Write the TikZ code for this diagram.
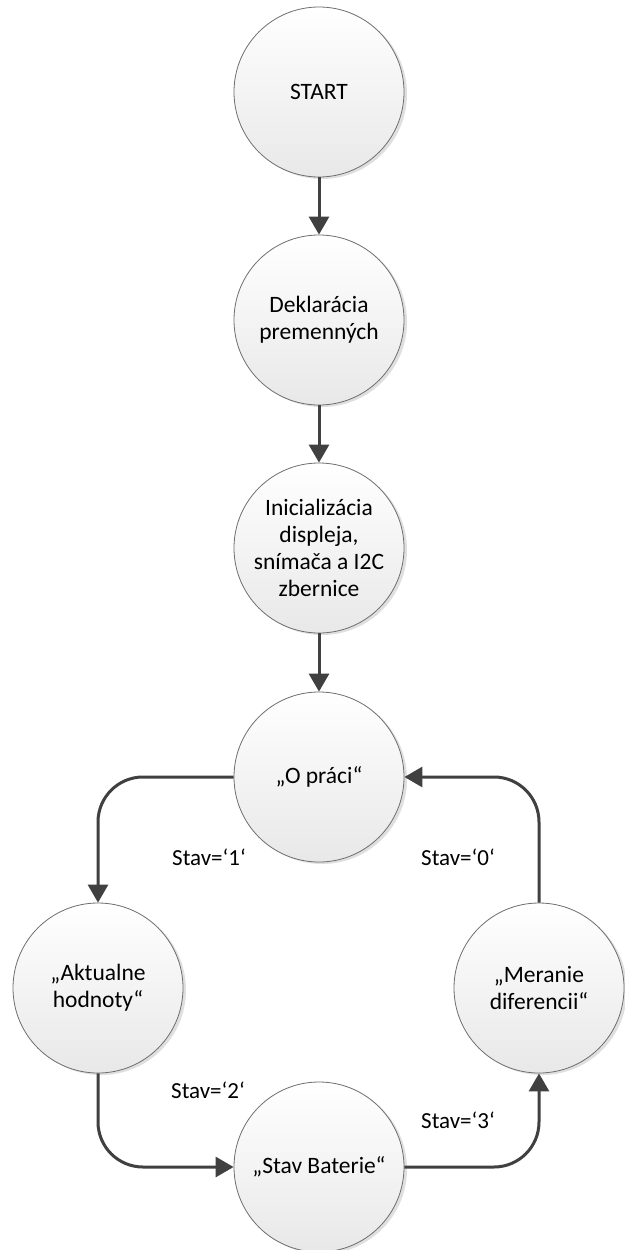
\documentclass[tikz,border=0pt]{standalone}
\usepackage{fontspec}
\setmainfont{Carlito}
\usetikzlibrary{arrows.meta,shadows}
\definecolor{linegray}{HTML}{404040}
\definecolor{rimgray}{HTML}{6E6E6E}

\begin{document}
\begin{tikzpicture}[x=1pt, y=-1pt,
    state/.style={circle, draw=rimgray, line width=0.8pt, minimum size=170pt, inner sep=0pt, align=center,
        top color=white, bottom color=black!9,
        drop shadow={shadow xshift=3pt, shadow yshift=-2pt, opacity=0.25},
        font=\fontsize{23.5}{27}\selectfont},
    flow/.style={draw=linegray, line width=3pt, -{Triangle[length=18pt,width=20pt]}},
    cond/.style={font=\fontsize{23}{27}\selectfont, inner sep=0pt}]
                \fill[white] (0,0) rectangle (624,1250);
                \useasboundingbox (0,0) rectangle (624,1250);

                \node[state] (start) at (319,92) {START};
                \node[state] (dekl) at (319,320) {Deklarácia\\premenných};
                \node[state] (init) at (319,548) {Inicializácia\\displeja,\\snímača a I2C\\zbernice};
                \node[state] (opraci) at (319,777) {„O práci“};
                \node[state] (aktual) at (98,988) {„Aktualne\\hodnoty“};
                \node[state] (meran) at (539,988) {„Meranie\\diferencii“};
                \node[state] (bat) at (319,1167) {„Stav Baterie“};

                \draw[flow] (start) -- (dekl);
                \draw[flow] (dekl) -- (init);
                \draw[flow] (init) -- (opraci);
                \draw[flow, rounded corners=45pt] (opraci.west) -| (aktual.north);
                \draw[flow, rounded corners=45pt] (aktual.south) |- (bat.west);
                \draw[flow, rounded corners=45pt] (bat.east) -| (meran.south);
                \draw[flow, rounded corners=45pt] (meran.north) |- (opraci.east);

                \node[cond] (s1) at (209,857) {Stav=‘1‘};
                \node[cond] (s0) at (458,857) {Stav=‘0‘};
                \node[cond] (s2) at (208,1090) {Stav=‘2‘};
                \node[cond] (s3) at (458,1120) {Stav=‘3‘};
            \end{tikzpicture}
\end{document}
